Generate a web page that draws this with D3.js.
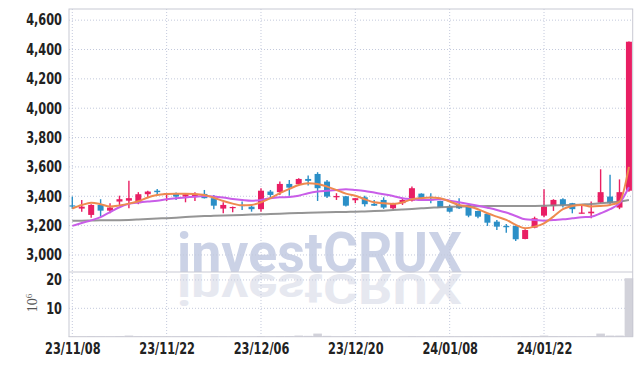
<!DOCTYPE html>
<html>
<head>
<meta charset="utf-8">
<script src="https://cdn.jsdelivr.net/npm/d3@7"></script>
<style>
  body { margin: 0; background: #fff; }
  svg { display: block; }
</style>
</head>
<body>
<svg></svg>
<script>
// trading days, 23/11/08 .. 24/02/02
const dates = ['23/11/08','23/11/09','23/11/10','23/11/13','23/11/14','23/11/15','23/11/16','23/11/17','23/11/20','23/11/21',
  '23/11/22','23/11/23','23/11/24','23/11/27','23/11/28','23/11/29','23/11/30','23/12/01','23/12/04','23/12/05',
  '23/12/06','23/12/07','23/12/08','23/12/11','23/12/12','23/12/13','23/12/14','23/12/15','23/12/18','23/12/19',
  '23/12/20','23/12/21','23/12/22','23/12/26','23/12/27','23/12/28','24/01/02','24/01/03','24/01/04','24/01/05',
  '24/01/08','24/01/09','24/01/10','24/01/11','24/01/12','24/01/15','24/01/16','24/01/17','24/01/18','24/01/19',
  '24/01/22','24/01/23','24/01/24','24/01/25','24/01/26','24/01/29','24/01/30','24/01/31','24/02/01','24/02/02']

const open  = [3338,3316,3273,3341,3302,3364,3370,3353,3414,3438, 3409,3421,3398,3402,3416,3387,3316,3319,3341,3329,
  3312,3432,3428,3484,3482,3518,3552,3500,3393,3400, 3373,3393,3348,3375,3318,3353,3370,3418,3382,3368,
  3330,3341,3341,3300,3280,3227,3198,3198,3109,3186, 3268,3334,3380,3353,3282,3284,3357,3398,3323,3438]
const high  = [3398,3375,3345,3380,3353,3404,3505,3428,3438,3450, 3422,3425,3415,3428,3443,3409,3359,3330,3364,3341,
  3455,3443,3500,3511,3523,3541,3564,3511,3421,3402, 3389,3404,3375,3393,3355,3387,3466,3420,3421,3370,
  3341,3387,3346,3302,3282,3239,3211,3200,3175,3261, 3448,3380,3387,3355,3334,3364,3584,3546,3515,4455]
const low   = [3314,3295,3254,3261,3284,3341,3318,3346,3387,3409, 3368,3375,3359,3368,3385,3312,3284,3291,3307,3295,
  3295,3387,3409,3404,3477,3473,3368,3389,3375,3330, 3353,3330,3334,3314,3312,3341,3364,3375,3353,3320,
  3289,3314,3257,3250,3198,3170,3152,3095,3107,3182, 3257,3300,3323,3284,3282,3250,3352,3346,3312,3430]
const close = [3332,3329,3341,3302,3323,3380,3387,3414,3432,3428, 3421,3398,3414,3416,3387,3336,3341,3327,3336,3312,
  3438,3409,3484,3459,3518,3505,3455,3398,3402,3336, 3387,3346,3336,3323,3353,3375,3455,3387,3373,3323,
  3295,3318,3268,3261,3220,3193,3189,3107,3170,3250, 3330,3375,3339,3312,3289,3295,3428,3353,3428,4453]
// volume, 10^6 shares
const volume = [0.12,0.1,0.15,0.12,0.1,0.2,0.4,0.15,0.12,0.1, 0.1,0.08,0.1,0.1,0.12,0.15,0.12,0.08,0.1,0.1,
  0.25,0.12,0.2,0.2,0.4,0.3,1.1,0.3,0.1,0.12, 0.1,0.12,0.08,0.1,0.08,0.1,0.2,0.12,0.1,0.12,
  0.12,0.1,0.15,0.12,0.15,0.15,0.12,0.2,0.18,0.2, 0.4,0.2,0.12,0.12,0.1,0.12,1.1,0.4,0.4,20.6]

// moving averages
const maShort = [3316,3340,3356,3346,3330,3338,3350,3366,3392,3408, 3415,3418,3418,3416,3408,3390,3368,3350,3338,3341,
  3359,3387,3421,3450,3477,3489,3484,3466,3443,3418, 3404,3380,3359,3353,3348,3357,3380,3387,3391,3387,
  3364,3341,3330,3312,3284,3261,3239,3205,3182,3193, 3216,3261,3312,3334,3341,3330,3334,3341,3362,3600]
const maMid = [3198,3218,3236,3258,3292,3325,3348,3357,3364,3370, 3380,3387,3392,3397,3401,3398,3391,3382,3375,3370,
  3375,3387,3393,3395,3404,3421,3432,3438,3443,3448, 3443,3436,3425,3414,3402,3387,3380,3375,3375,3380,
  3370,3359,3348,3336,3322,3307,3289,3266,3243,3239, 3234,3239,3243,3250,3257,3261,3284,3312,3353,3462]
const maLong = [3234,3234,3235,3236,3236,3237,3239,3242,3245,3248, 3251,3254,3258,3262,3265,3267,3269,3271,3273,3275,
  3277,3279,3281,3284,3286,3288,3290,3291,3292,3293, 3295,3297,3299,3302,3306,3310,3314,3318,3322,3326,
  3328,3330,3331,3332,3333,3333,3334,3334,3334,3334, 3335,3337,3339,3341,3344,3347,3352,3358,3365,3375]

const xTicks = [0, 10, 20, 30, 40, 50]
const priceTicks = [3000, 3200, 3400, 3600, 3800, 4000, 4200, 4400, 4600]
const volTicks = [10, 20]

let w = 642;
let h = 366;
const pLeft = 69, pRight = 632.7, pTop = 9, pMid = 272, pBottom = 336.7;

const up = '#e91e63', down = '#2b8fc7';
const tickFont = "'Liberation Sans Narrow', 'DejaVu Sans Condensed', sans-serif";

const svg = d3.select('svg')
  .attr('width', w)
  .attr('height', h)

const x = d3.scaleLinear().domain([-0.35, 59.4]).range([pLeft, pRight])
const y = d3.scaleLinear().domain([2884, 4676]).range([pMid, pTop])
const yv = d3.scaleLinear().domain([0, 22.8]).range([pBottom, pMid])

// watermark + reflection
const wm = svg.append('g')
  .attr('font-family', 'Roboto, sans-serif')
  .attr('font-weight', 'bold')
  .attr('font-size', 56)
wm.append('text')
  .attr('x', 177).attr('y', pMid)
  .attr('textLength', 285).attr('lengthAdjust', 'spacingAndGlyphs')
  .attr('fill', '#cbd2e6')
  .text('investCRUX')
wm.append('text')
  .attr('x', 177).attr('y', pMid)
  .attr('textLength', 285).attr('lengthAdjust', 'spacingAndGlyphs')
  .attr('transform', `translate(0,${pMid + 2}) scale(1,-0.75) translate(0,${-pMid})`)
  .attr('fill', '#e6e8f0')
  .text('investCRUX')

// grid
const grid = svg.append('g')
  .attr('stroke', '#c3c9dc')
  .attr('stroke-dasharray', '1,2')
grid.selectAll('.hp')
  .data(priceTicks)
  .enter()
  .append('line')
  .attr('x1', pLeft).attr('x2', pRight)
  .attr('y1', d => y(d)).attr('y2', d => y(d))
grid.selectAll('.hv')
  .data(volTicks)
  .enter()
  .append('line')
  .attr('x1', pLeft).attr('x2', pRight)
  .attr('y1', d => yv(d)).attr('y2', d => yv(d))
grid.selectAll('.v')
  .data(xTicks)
  .enter()
  .append('line')
  .attr('x1', d => x(d)).attr('x2', d => x(d))
  .attr('y1', pTop).attr('y2', pBottom)

// volume
svg.append('g')
  .selectAll('rect')
  .data(volume)
  .enter()
  .append('rect')
  .attr('x', (d, i) => x(i) - 4.3)
  .attr('width', 8.6)
  .attr('y', d => yv(d))
  .attr('height', d => pBottom - yv(d))
  .attr('fill', '#d2d2da')

// candles
const idx = d3.range(dates.length)
const candles = svg.append('g')
  .selectAll('g')
  .data(idx)
  .enter()
  .append('g')
  .attr('fill', i => close[i] >= open[i] ? up : down)
  .attr('stroke', i => close[i] >= open[i] ? up : down)

candles.append('line')
  .attr('x1', i => x(i)).attr('x2', i => x(i))
  .attr('y1', i => y(high[i])).attr('y2', i => y(low[i]))
  .attr('stroke-width', 1.4)

candles.append('rect')
  .attr('stroke', 'none')
  .attr('x', i => x(i) - 3)
  .attr('width', 6)
  .attr('y', i => y(Math.max(open[i], close[i])))
  .attr('height', i => Math.max(1.2, Math.abs(y(open[i]) - y(close[i]))))

// moving averages
const line = arr => d3.line()
  .x((d, i) => x(i))
  .y(d => y(d))
  .curve(d3.curveMonotoneX)(arr)

svg.append('path').attr('d', line(maLong))
  .attr('fill', 'none').attr('stroke', '#8a8a8a').attr('stroke-width', 2).attr('opacity', 0.9)
svg.append('path').attr('d', line(maMid))
  .attr('fill', 'none').attr('stroke', '#c95de8').attr('stroke-width', 2)
svg.append('path').attr('d', line(maShort))
  .attr('fill', 'none').attr('stroke', '#ee8a4f').attr('stroke-width', 2)

// frame
svg.append('rect')
  .attr('x', pLeft).attr('y', pTop)
  .attr('width', pRight - pLeft).attr('height', pBottom - pTop)
  .attr('fill', 'none').attr('stroke', '#c8c9d3')
svg.append('line')
  .attr('x1', pLeft).attr('x2', pRight)
  .attr('y1', pMid).attr('y2', pMid)
  .attr('stroke', '#c8c9d3')

// axes
const yAxis = d3.axisLeft(y)
  .tickValues(priceTicks)
  .tickFormat(d3.format(','))
  .tickSize(0)
  .tickPadding(7)

svg.append('g')
  .attr('class', 'y-axis')
  .attr('transform', 'translate(' + pLeft + ',0)')
  .call(yAxis)
  .attr('font-size', 15)
  .attr('font-family', tickFont)
  .attr('font-weight', 'bold')

const vAxis = d3.axisLeft(yv)
  .tickValues(volTicks)
  .tickSize(0)
  .tickPadding(7)

svg.append('g')
  .attr('class', 'v-axis')
  .attr('transform', 'translate(' + pLeft + ',0)')
  .call(vAxis)
  .attr('font-size', 15)
  .attr('font-family', tickFont)
  .attr('font-weight', 'bold')

const xAxis = d3.axisBottom(x)
  .tickValues(xTicks)
  .tickFormat(i => dates[i])
  .tickSize(0)
  .tickPadding(7)

svg.append('g')
  .attr('class', 'x-axis')
  .attr('transform', 'translate(0,' + pBottom + ')')
  .call(xAxis)
  .attr('font-size', 15)
  .attr('font-family', tickFont)
  .attr('font-weight', 'bold')

svg.selectAll('.domain').remove()
svg.selectAll('.tick text').attr('fill', '#222')
  .attr('lengthAdjust', 'spacingAndGlyphs')
// squeeze labels to the narrow look of the original
svg.selectAll('.tick text').each(function() {
  const len = this.getComputedTextLength()
  d3.select(this).attr('textLength', len * 0.84)
})

// 10^6 unit label
const unit = svg.append('text')
  .attr('transform', 'translate(37,303) rotate(-90)')
  .attr('text-anchor', 'middle')
  .attr('font-family', "'Liberation Serif', serif")
  .attr('font-size', 14)
  .attr('fill', '#555')
unit.append('tspan').text('10')
unit.append('tspan').attr('dy', -5).attr('font-size', 9).text('6')
</script>
</body>
</html>
